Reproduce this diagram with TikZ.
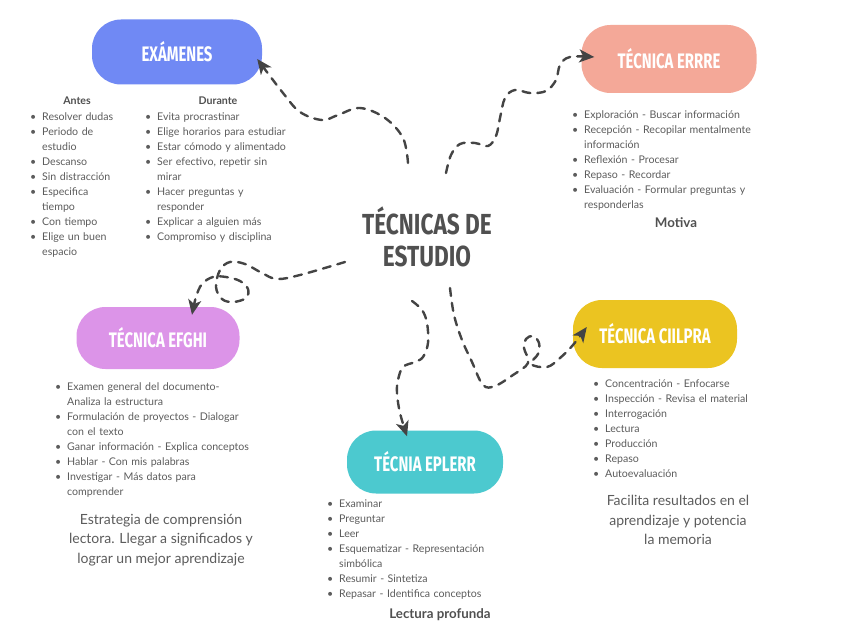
\documentclass[tikz,border=0pt]{standalone}
\usepackage{fontspec}
\setmainfont{Lato}
\newfontfamily\headfont[FakeStretch=0.71]{Fira Sans}
\newfontfamily\titlefont[FakeStretch=0.78]{Fira Sans}
\usetikzlibrary{positioning,arrows.meta,calc}

\definecolor{exblue}{RGB}{112,137,244}
\definecolor{salmon}{RGB}{244,168,152}
\definecolor{lilac}{RGB}{220,148,232}
\definecolor{teal}{RGB}{76,201,207}
\definecolor{mustard}{RGB}{235,196,33}
\definecolor{txtgrey}{RGB}{92,92,92}
\definecolor{dkgrey}{RGB}{80,80,80}
\definecolor{linegrey}{RGB}{68,68,68}

\newcommand{\itm}[1]{\leftskip=12pt\noindent\llap{\makebox[12pt][l]{\textbullet}}#1\par}

\begin{document}
\begin{tikzpicture}[
  x=1pt,y=-1pt,
  blob/.style={rounded corners=29pt,inner sep=0pt,text=white,align=center,
               font=\headfont\bfseries\fontsize{21}{21}\selectfont},
  lst/.style={anchor=north west,inner sep=0pt,text width=250pt,text=txtgrey,
              font=\fontsize{10.6}{15}\selectfont},
  subhd/.style={inner sep=0pt,text=dkgrey,font=\bfseries\fontsize{10.6}{13}\selectfont},
  tag/.style={inner sep=0pt,text=dkgrey,font=\bfseries\fontsize{13.3}{16}\selectfont},
  note/.style={inner sep=0pt,align=center,text=txtgrey,font=\fontsize{14}{19.5}\selectfont},
  conn/.style={-{Stealth[length=15pt,width=13pt,inset=4pt]},draw=linegrey,
               line width=2.4pt,dash pattern=on 8pt off 7pt,line cap=round}
]
\path[use as bounding box,fill=white] (0,0) rectangle (848,636);

% ---- centre ----
\node[text=dkgrey,align=center,font=\titlefont\bfseries\fontsize{29}{32}\selectfont]
     (title) at (427,237) {TÉCNICAS DE\\ESTUDIO};

% ---- blobs ----
\node[blob,fill=exblue,minimum width=170pt,minimum height=65pt] (exam) at (177,52) {EXÁMENES};
\node[blob,fill=salmon,minimum width=175pt,minimum height=68pt] (errre) at (669,59) {TÉCNICA ERRRE};
\node[blob,fill=lilac,minimum width=163pt,minimum height=62pt] (efghi) at (158,338) {TÉCNICA EFGHI};
\node[blob,fill=teal,minimum width=156pt,minimum height=63pt] (eplerr) at (425,462) {TÉCNIA EPLERR};
\node[blob,fill=mustard,minimum width=164pt,minimum height=68pt] (ciilpra) at (655,334) {TÉCNICA CIILPRA};

% ---- exámenes lists ----
\node[subhd] (antes) at (77,101) {Antes};
\node[subhd] (durante) at (218,101) {Durante};
\node[lst] (antesList) at (30,112) {%
  \itm{Resolver dudas}
  \itm{Periodo de\newline estudio}
  \itm{Descanso}
  \itm{Sin distracción}
  \itm{Especifica\newline tiempo}
  \itm{Con tiempo}
  \itm{Elige un buen\newline espacio}};
\node[lst] (duranteList) at (145,113) {%
  \itm{Evita procrastinar}
  \itm{Elige horarios para estudiar}
  \itm{Estar cómodo y alimentado}
  \itm{Ser efectivo, repetir sin\newline mirar}
  \itm{Hacer preguntas y\newline responder}
  \itm{Explicar a alguien más}
  \itm{Compromiso y disciplina}};

% ---- errre ----
\node[lst] (errreList) at (572,110) {%
  \itm{Exploración - Buscar información}
  \itm{Recepción - Recopilar mentalmente\newline información}
  \itm{Reflexión - Procesar}
  \itm{Repaso - Recordar}
  \itm{Evaluación - Formular preguntas y\newline responderlas}};
\node[tag] (motiva) at (676,223) {Motiva};

% ---- efghi ----
\node[lst] (efghiList) at (55,382) {%
  \itm{Examen general del documento-\newline Analiza la estructura}
  \itm{Formulación de proyectos - Dialogar\newline con el texto}
  \itm{Ganar información - Explica conceptos}
  \itm{Hablar - Con mis palabras}
  \itm{Investigar - Más datos para\newline comprender}};
\node[note] (efghiNote) at (161,540)
     {Estrategia de comprensión\\lectora. Llegar a significados y\\lograr un mejor aprendizaje};

% ---- eplerr ----
\node[lst] (eplerrList) at (327,500) {%
  \itm{Examinar}
  \itm{Preguntar}
  \itm{Leer}
  \itm{Esquematizar - Representación\newline simbólica}
  \itm{Resumir - Sintetiza}
  \itm{Repasar - Identifica conceptos}};
\node[tag] (lectura) at (440,615) {Lectura profunda};

% ---- ciilpra ----
\node[lst] (ciilpraList) at (593,380) {%
  \itm{Concentración - Enfocarse}
  \itm{Inspección - Revisa el material}
  \itm{Interrogación}
  \itm{Lectura}
  \itm{Producción}
  \itm{Repaso}
  \itm{Autoevaluación}};
\node[note] (ciilpraNote) at (678,520)
     {Facilita resultados en el\\aprendizaje y potencia\\la memoria};

% ---- connectors ----
\coordinate (sEx) at (408,163);
\coordinate (sEr) at (446,173);
\coordinate (sEf) at (345,262);
\coordinate (sEp) at (412,301);
\coordinate (sCi) at (450,288);
\coordinate (tEx) at ($(exam.east)+(-5,7)$);
\coordinate (tEr) at ($(errre.west)+(13,-2)$);
\coordinate (tEf) at ($(efghi.north)+(34,8)$);
\coordinate (tEp) at ($(eplerr.north)+(-18,6)$);
\coordinate (tCi) at ($(ciilpra.west)+(14,-7)$);

\draw[conn] plot[smooth,tension=0.6] coordinates
  {(sEx) (403,138) (385,118) (360,108) (338,115) (322,120) (300,112) (283,93) (tEx)};
\draw[conn] plot[smooth,tension=0.6] coordinates
  {(sEr) (451,155) (460,144) (475,143) (488,146) (496,136) (500,118) (505,98) (515,90)
   (530,93) (546,91) (556,80) (560,65) (570,57) (tEr)};
\draw[conn] plot[smooth,tension=0.6] coordinates
  {(sEf) (300,275) (277,279) (262,273) (245,264) (230,262) (220,270) (216,287) (222,299)
   (233,302) (246,298) (248,289) (240,281) (226,277) (213,277) (202,284) (196,297) (tEf)};
\draw[conn] plot[smooth,tension=0.6] coordinates
  {(sEp) (422,310) (427,323) (428,343) (423,357) (415,362) (403,367) (398,380) (397,393)
   (400,413) (tEp)};
\draw[conn] plot[smooth,tension=0.6] coordinates
  {(sCi) (454,315) (462,340) (472,362) (483,385) (495,386) (513,375) (528,363) (524,348)
   (526,339) (533,336) (539,343) (538,354) (531,364) (547,367) (560,358) (573,345) (tCi)};

\end{tikzpicture}
\end{document}
